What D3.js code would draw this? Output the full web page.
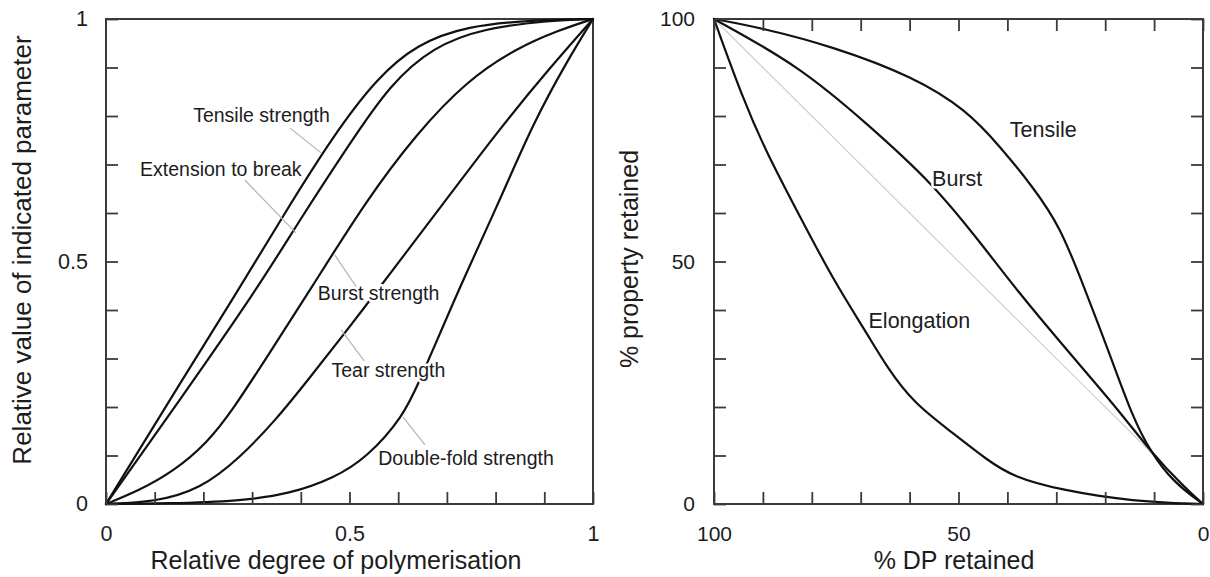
<!DOCTYPE html>
<html>
<head>
<meta charset="utf-8">
<script src="https://cdn.jsdelivr.net/npm/d3@7"></script>
<style>
  html, body { margin: 0; padding: 0; background: #fff; }
  svg { display: block; font-family: "Liberation Sans", Arial, Helvetica, sans-serif; }
</style>
</head>
<body>
<svg id="chart" width="1210" height="577"></svg>
<script>
// ---- Left panel: relative property value vs relative degree of polymerisation ----
const tensileStrength = [[0,0],[0.131,0.215],[0.272,0.441],[0.364,0.595],[0.467,0.76],[0.556,0.878],[0.638,0.948],[0.741,0.986],[0.88,0.998],[1,1]];
const extensionToBreak = [[0,0],[0.152,0.215],[0.309,0.441],[0.398,0.586],[0.501,0.744],[0.583,0.865],[0.672,0.943],[0.775,0.981],[0.912,0.997],[1,1]];
const burstStrength = [[0,0],[0.07,0.029],[0.138,0.067],[0.207,0.125],[0.261,0.195],[0.335,0.31],[0.419,0.441],[0.535,0.627],[0.638,0.764],[0.741,0.873],[0.843,0.94],[0.93,0.977],[1,1]];
const tearStrength = [[0,0],[0.1,0.004],[0.193,0.03],[0.275,0.095],[0.35,0.175],[0.412,0.252],[0.535,0.41],[0.617,0.52],[0.672,0.592],[0.809,0.775],[0.912,0.9],[1,1]];
const doubleFoldStrength = [[0,0],[0.125,0.001],[0.275,0.006],[0.378,0.021],[0.467,0.053],[0.535,0.095],[0.61,0.18],[0.643,0.252],[0.689,0.359],[0.73,0.455],[0.809,0.627],[0.877,0.785],[0.946,0.912],[1,1]];

const leftTickValues = [0,1,2,3,4,5,6,7,8,9,10].map(i => i / 10);
const leftTickLabels = ["0", "0.5", "1"];

// label text, anchor (data units) and leader line (data units)
const leftLabels = [
  { text: "Tensile strength",     x: 0.179, y: 0.788, leader: [[0.378,0.775],[0.443,0.723]] },
  { text: "Extension to break",   x: 0.070, y: 0.677, leader: [[0.285,0.668],[0.390,0.559]] },
  { text: "Burst strength",       x: 0.435, y: 0.421, leader: [[0.470,0.513],[0.517,0.443]] },
  { text: "Tear strength",        x: 0.463, y: 0.262, leader: [[0.483,0.359],[0.530,0.295]] },
  { text: "Double-fold strength", x: 0.559, y: 0.080, leader: [[0.610,0.179],[0.655,0.122]] }
];

// ---- Right panel: % property retained vs % DP retained ----
const tensileRetained = [[100,100],[90,98.1],[75.6,94.3],[59.2,88.1],[48.3,81.2],[41.5,73.7],[34.8,65.4],[29.2,57.2],[24.5,45.2],[19,30.7],[14.3,17.7],[10.8,10.9],[6.1,4.5],[0,0]];
const burstRetained = [[100,100],[82.4,90.2],[68.8,78.5],[55.2,66.1],[44.9,53.1],[38.1,44.1],[27.9,31.8],[17.6,19.8],[10.8,10.9],[4,3.6],[0,0]];
const elongationRetained = [[100,100],[94,83.3],[89.2,72.3],[82.4,59.2],[75.6,46.2],[68.8,35.3],[64.7,28.3],[59.2,20.8],[51.1,14.6],[44.2,9.1],[38.8,5.6],[29.2,2.9],[14.3,0.5],[0,0]];
const proportionalLine = [[100,100],[0,0]];

const rightTickValues = [0,10,20,30,40,50,60,70,80,90,100];
const rightTickLabels = ["0", "50", "100"];

const rightLabels = [
  { text: "Tensile",    x: 39.5, y: 75.7 },
  { text: "Burst",      x: 55.4, y: 65.6 },
  { text: "Elongation", x: 68.4, y: 36.2 }
];

// ---- drawing ----
const svg = d3.select("#chart");
svg.append("rect").attr("width", 1210).attr("height", 577).attr("fill", "#fff");

const INK = "#111";
const FRAME = "#3a3a3a";
const TEXT = "#1c1c1c";

const xL = d3.scaleLinear().domain([0, 1]).range([106, 593]);
const yL = d3.scaleLinear().domain([0, 1]).range([504, 19]);
const xR = d3.scaleLinear().domain([100, 0]).range([714, 1203]);
const yR = d3.scaleLinear().domain([0, 100]).range([504, 19]);

function panel(x, y) {
  const g = svg.append("g");
  const [x0, x1] = x.range(), [y0, y1] = y.range();
  g.append("rect")
    .attr("x", Math.min(x0, x1)).attr("y", Math.min(y0, y1))
    .attr("width", Math.abs(x1 - x0)).attr("height", Math.abs(y1 - y0))
    .attr("fill", "none").attr("stroke", FRAME).attr("stroke-width", 2);
  return g;
}

function styleAxis(sel, fontSize) {
  sel.select(".domain").remove();
  sel.selectAll(".tick line").attr("stroke", FRAME).attr("stroke-width", 1.8);
  sel.selectAll(".tick text").attr("fill", TEXT).attr("font-size", fontSize)
    .attr("font-family", "\"Liberation Sans\", Arial, sans-serif");
}

function curve(g, x, y, data, color, width, shape) {
  const line = d3.line().x(d => x(d[0])).y(d => y(d[1])).curve(shape || d3.curveBasis);
  g.append("path").datum(data).attr("d", line)
    .attr("fill", "none").attr("stroke", color).attr("stroke-width", width)
    .attr("stroke-linejoin", "round").attr("stroke-linecap", "round");
}

function label(g, px, py, text, size) {
  g.append("text").attr("x", px).attr("y", py).text(text)
    .attr("font-size", size).attr("fill", TEXT)
    .attr("stroke", "#fff").attr("stroke-width", 5).attr("stroke-linejoin", "round")
    .attr("paint-order", "stroke");
}

// Left panel
const gL = panel(xL, yL);
const leftFmt = d => { const s = d3.format("")(d); return leftTickLabels.includes(s) ? s : ""; };

[tensileStrength, extensionToBreak, burstStrength, tearStrength, doubleFoldStrength]
  .forEach(s => curve(gL, xL, yL, s, INK, 2.2));

leftLabels.forEach(l => {
  gL.append("line")
    .attr("x1", xL(l.leader[0][0])).attr("y1", yL(l.leader[0][1]))
    .attr("x2", xL(l.leader[1][0])).attr("y2", yL(l.leader[1][1]))
    .attr("stroke", "#b4b4b4").attr("stroke-width", 1.2);
});
leftLabels.forEach(l => label(gL, xL(l.x), yL(l.y), l.text, 19.5));

gL.append("g").attr("transform", "translate(106,0)")
  .call(d3.axisLeft(yL).tickValues(leftTickValues).tickSize(-12).tickPadding(18).tickFormat(leftFmt))
  .call(s => styleAxis(s, 21.5));
gL.append("g").attr("transform", "translate(0,504)")
  .call(d3.axisBottom(xL).tickValues(leftTickValues).tickSize(-12).tickPadding(22).tickFormat(leftFmt))
  .call(s => styleAxis(s, 21.5));

gL.append("text").attr("x", 336).attr("y", 569).attr("text-anchor", "middle")
  .attr("font-size", 25).attr("fill", TEXT).text("Relative degree of polymerisation");
gL.append("text").attr("transform", "translate(31,250) rotate(-90)").attr("text-anchor", "middle")
  .attr("font-size", 26).attr("fill", TEXT).text("Relative value of indicated parameter");

// Right panel
const gR = panel(xR, yR);
const rightFmt = d => { const s = String(d); return rightTickLabels.includes(s) ? s : ""; };

curve(gR, xR, yR, proportionalLine, "#cfcfcf", 1.2, d3.curveLinear);
[tensileRetained, burstRetained, elongationRetained]
  .forEach(s => curve(gR, xR, yR, s, INK, 2.2));

rightLabels.forEach(l => label(gR, xR(l.x), yR(l.y), l.text, 21.5));

gR.append("g").attr("transform", "translate(714,0)")
  .call(d3.axisLeft(yR).tickValues(rightTickValues).tickSize(-12).tickPadding(19).tickFormat(rightFmt))
  .call(s => styleAxis(s, 21));
gR.append("g").attr("transform", "translate(1203,0)")
  .call(d3.axisRight(yR).tickValues(rightTickValues).tickSize(-12).tickFormat(() => ""))
  .call(s => styleAxis(s, 21));
gR.append("g").attr("transform", "translate(0,504)")
  .call(d3.axisBottom(xR).tickValues(rightTickValues).tickSize(-12).tickPadding(22).tickFormat(rightFmt))
  .call(s => styleAxis(s, 21));
gR.append("g").attr("transform", "translate(0,19)")
  .call(d3.axisTop(xR).tickValues(rightTickValues).tickSize(-12).tickFormat(() => ""))
  .call(s => styleAxis(s, 21));

gR.append("text").attr("x", 954).attr("y", 569).attr("text-anchor", "middle")
  .attr("font-size", 25).attr("fill", TEXT).text("% DP retained");
gR.append("text").attr("transform", "translate(638,259) rotate(-90)").attr("text-anchor", "middle")
  .attr("font-size", 25).attr("fill", TEXT).text("% property retained");
</script>
</body>
</html>
